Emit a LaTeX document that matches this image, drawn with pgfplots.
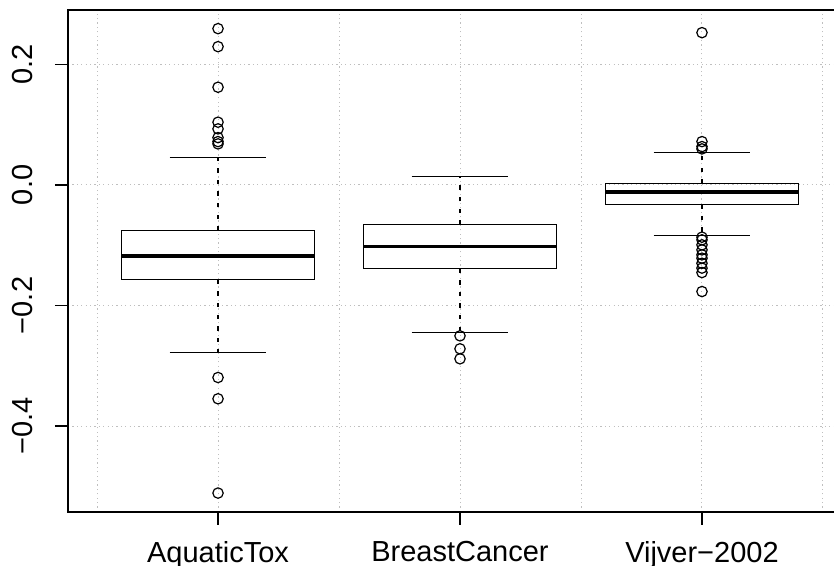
\documentclass[border=0pt]{standalone}
\usepackage{pgfplots}
\pgfplotsset{compat=1.18}
\usepgfplotslibrary{statistics}
\usepackage{fontspec}
\setmainfont{Liberation Sans}

\begin{document}
\begin{tikzpicture}
\useasboundingbox (0,0) rectangle (417pt,283pt);
\clip (0,0) rectangle (417pt,283pt);
\begin{axis}[
  at={(34pt,27pt)}, anchor=south west,
  scale only axis, width=392pt, height=251pt,
  xmin=0.38, xmax=3.62, ymin=-0.5426, ymax=0.2901,
  xtick={1,2,3}, xticklabels={AquaticTox,BreastCancer,Vijver−2002},
  ytick={-0.4,-0.2,0,0.2}, yticklabels={−0.4,−0.2,0.0,0.2},
  minor xtick={0.5,1.5,2.5,3.5},
  xmajorgrids, xminorgrids, ymajorgrids,
  grid style={lightgray, line width=0.5pt, dash pattern=on 0.6pt off 1.6pt},
  minor grid style={lightgray, line width=0.5pt, dash pattern=on 0.6pt off 1.6pt},
  tick align=outside, tick pos=left,
  major tick length=6.5pt, minor tick length=0pt,
  every tick/.style={black, line width=0.7pt},
  axis line style={line width=0.8pt},
  ticklabel style={font=\fontsize{14.5}{17}\selectfont, inner sep=0pt},
  yticklabel style={rotate=90, anchor=south},
  xticklabel style={anchor=north},
  xticklabel shift=7.8pt, yticklabel shift=10.8pt,
  boxplot/draw direction=y,
  boxplot/box extend=0.8,
  boxplot/whisker extend=0,
]

% AquaticTox
\addplot[black, line width=0.6pt, mark=o, mark size=2.6pt, mark options={solid, line width=0.6pt},
  boxplot prepared={draw position=1, median=-0.1177, upper quartile=-0.0758,
    lower quartile=-0.1575, upper whisker=0.0459, lower whisker=-0.2774,
    every median/.style={line width=1.8pt},
    every whisker/.style={dash pattern=on 2.2pt off 3.6pt}}]
table[row sep=\\, y index=0] {y\\ 0.2592\\ 0.2293\\ 0.1620\\ 0.1040\\ 0.0929\\ 0.0784\\ 0.0718\\ 0.0680\\ -0.3195\\ -0.3548\\ -0.5112\\};
\addplot[black, line width=0.6pt] coordinates {(0.8,0.0459) (1.2,0.0459)};
\addplot[black, line width=0.6pt] coordinates {(0.8,-0.2774) (1.2,-0.2774)};

% BreastCancer
\addplot[black, line width=0.6pt, mark=o, mark size=2.6pt, mark options={solid, line width=0.6pt},
  boxplot prepared={draw position=2, median=-0.1023, upper quartile=-0.0658,
    lower quartile=-0.1388, upper whisker=0.0138, lower whisker=-0.2442,
    every median/.style={line width=1.8pt},
    every whisker/.style={dash pattern=on 2.2pt off 3.6pt}}]
table[row sep=\\, y index=0] {y\\ -0.2504\\ -0.2719\\ -0.2885\\};
\addplot[black, line width=0.6pt] coordinates {(1.8,0.0138) (2.2,0.0138)};
\addplot[black, line width=0.6pt] coordinates {(1.8,-0.2442) (2.2,-0.2442)};

% Vijver-2002
\addplot[black, line width=0.6pt, mark=o, mark size=2.6pt, mark options={solid, line width=0.6pt},
  boxplot prepared={draw position=3, median=-0.0121, upper quartile=0.0022,
    lower quartile=-0.0320, upper whisker=0.0542, lower whisker=-0.0834,
    every median/.style={line width=1.8pt},
    every whisker/.style={dash pattern=on 2.2pt off 3.6pt}}]
table[row sep=\\, y index=0] {y\\ 0.2525\\ 0.0718\\ 0.0635\\ 0.0597\\ -0.0867\\ -0.0912\\ -0.0995\\ -0.1078\\ -0.1160\\ -0.1216\\ -0.1300\\ -0.1380\\ -0.1454\\ -0.1769\\};
\addplot[black, line width=0.6pt] coordinates {(2.8,0.0542) (3.2,0.0542)};
\addplot[black, line width=0.6pt] coordinates {(2.8,-0.0834) (3.2,-0.0834)};

\end{axis}
\end{tikzpicture}
\end{document}
